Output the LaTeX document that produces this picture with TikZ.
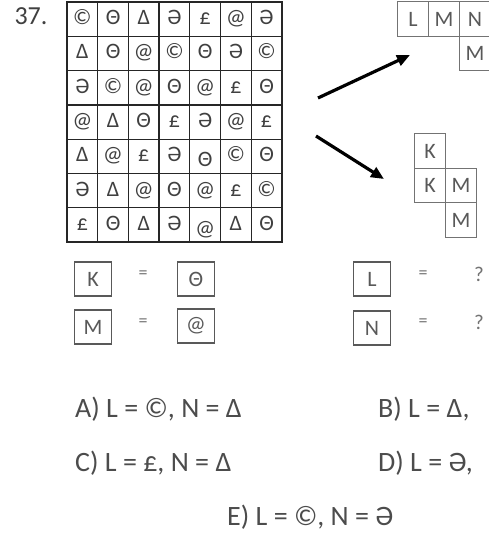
\documentclass[tikz,border=0pt]{standalone}
\usepackage{fontspec}
\setmainfont{Carlito}
\usetikzlibrary{arrows.meta,positioning}
\tikzset{
  cell/.style={rectangle,draw=black!85,line width=1.3pt,minimum width=30.7pt,minimum height=34.3pt,
    inner sep=0pt,outer sep=0pt,text height=14pt,text depth=3pt,
    font=\fontsize{22}{22}\selectfont,text=black!75},
  piece/.style={rectangle,draw=black!55,line width=0.9pt,minimum width=31pt,minimum height=34.5pt,
    inner sep=0pt,outer sep=0pt,font=\fontsize{22}{22}\selectfont,text=black!65},
  keybox/.style={rectangle,draw=black!65,line width=1.2pt,minimum width=37pt,minimum height=34pt,
    inner sep=0pt,outer sep=0pt,font=\fontsize{22}{22}\selectfont,text=black!65},
  eqsign/.style={font=\fontsize{18}{18}\selectfont,text=black!55},
  answer/.style={anchor=west,inner sep=0pt,font=\fontsize{28}{28}\selectfont,text=black!70},
  arrow/.style={-{Triangle[length=13pt,width=11pt]},line width=3.2pt,black}
}

\begin{document}
\begin{tikzpicture}[x=1pt,y=-1pt]
  \useasboundingbox (0,0) rectangle (489,535);
  \clip (0,0) rectangle (489,535);
  \fill[white] (0,0) rectangle (489,535);

  \node[font=\fontsize{26}{26}\selectfont,text=black!75] (num) at (31,16) {37.};

  % symbol grid
  \foreach \row [count=\r] in {{©,Θ,Δ,Ə,£,@,Ə},{Δ,Θ,@,©,Θ,Ə,©},{Ə,©,@,Θ,@,£,Θ},{@,Δ,Θ,£,Ə,@,£},
      {Δ,@,£,Ə,\lower5pt\hbox{Θ},©,Θ},{Ə,Δ,@,Θ,@,£,©},{£,Θ,Δ,Ə,\lower5pt\hbox{@},Δ,Θ}} {
    \foreach \sym [count=\c] in \row {
      \node[cell] (g-\r-\c) at ({67+30.7*(\c-0.5)},{2+34.3*(\r-0.5)}) {\sym};
    }
  }

  % upper piece
  \node[piece] (pL)  at (413,19) {L};
  \node[piece,right=0pt of pL] (pM)  {M};
  \node[piece,right=0pt of pM] (pN)  {N};
  \node[piece,below=0pt of pN] (pM2) {M};

  % lower piece
  \node[piece] (qK)  at (430,151) {K};
  \node[piece,below=0pt of qK] (qK2) {K};
  \node[piece,right=0pt of qK2] (qM)  {M};
  \node[piece,below=0pt of qM] (qM2) {M};

  \coordinate (upS) at (318,98);
  \coordinate (upE) at (410,55);
  \coordinate (dnS) at (316,136);
  \coordinate (dnE) at (384,179);
  \draw[arrow] (upS) -- (upE);
  \draw[arrow] (dnS) -- (dnE);

  % key
  \node[keybox] (kK) at (93,279) {K};
  \node[eqsign] (e1) at (143,275) {=};
  \node[keybox] (kT) at (196,279) {Θ};
  \node[keybox] (kM) at (93,327) {M};
  \node[eqsign] (e2) at (143,323) {=};
  \node[keybox] (kA) at (196,326) {@};

  \node[keybox] (kL) at (372,279) {L};
  \node[eqsign] (e3) at (423,275) {=};
  \node[eqsign,font=\fontsize{21}{21}\selectfont] (q1) at (479,274) {?};
  \node[keybox] (kN) at (372,328) {N};
  \node[eqsign] (e4) at (423,323) {=};
  \node[eqsign,font=\fontsize{21}{21}\selectfont] (q2) at (479,322) {?};

  % answers
  \node[answer] (ansA) at (75,409)  {A) L = ©, N = Δ};
  \node[answer] (ansB) at (378,409) {B) L = Δ,};
  \node[answer] (ansC) at (75,463)  {C) L = £, N = Δ};
  \node[answer] (ansD) at (378,463) {D) L = Ə,};
  \node[answer] (ansE) at (227,517) {E) L = ©, N = Ə};
\end{tikzpicture}
\end{document}
